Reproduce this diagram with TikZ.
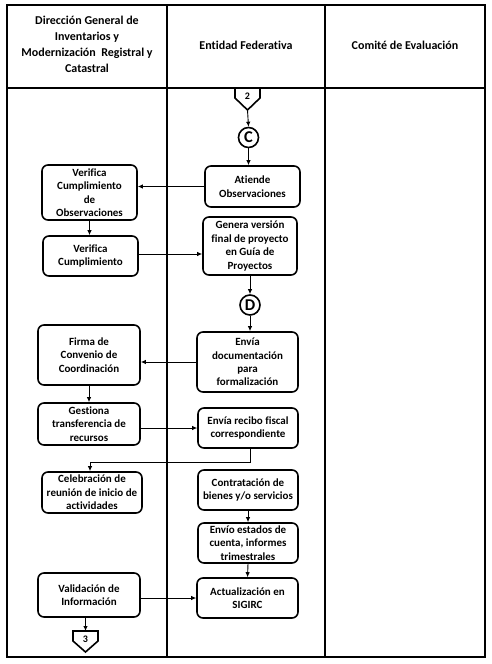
\documentclass[tikz,border=0pt]{standalone}
\usepackage{fontspec}
\setmainfont{Carlito}[Ligatures=NoCommon]
\usetikzlibrary{arrows.meta,calc}
\begin{document}
\begin{tikzpicture}[x=1pt,y=-1pt,
  box/.style={draw, line width=1.6pt, rounded corners=6pt, align=center, inner sep=0pt,
    font=\bfseries\fontsize{11}{13.4}\selectfont},
  conn/.style={draw, circle, line width=1.6pt, inner sep=0pt, minimum size=20pt,
    font=\bfseries\fontsize{16.5}{16.5}\selectfont},
  head/.style={align=center, font=\bfseries\fontsize{12}{16}\selectfont},
  arr/.style={line width=0.9pt, -{Latex[length=5pt,width=4.5pt]}},
  ln/.style={line width=0.9pt},
  offpage/.style={draw, line width=1.6pt, line join=miter},
  lab/.style={font=\bfseries\fontsize{10}{10}\selectfont, inner sep=0pt}
]
\useasboundingbox (0,0) rectangle (491,664);
% table
\draw[line width=2.2pt] (7,5) rectangle (485,657);
\draw[line width=2.2pt] (7,88) -- (485,88);
\draw[line width=1.4pt] (167,5) -- (167,657);
\draw[line width=1.4pt] (325,5) -- (325,657);
% headers
\node[head] (h1) at (87,44) {Dirección General de\\Inventarios y\\Modernización\ \ Registral y\\Catastral};
\node[head] (h2) at (246,45) {Entidad Federativa};
\node[head] (h3) at (405,45) {Comité de Evaluación};

% off-page connector 2
\draw[offpage] (235,88) -- (260,88) -- (260,98) -- (247.5,110) -- (235,98) -- cycle;
\node[lab] (p2) at (247.5,96) {2};
\coordinate (p2b) at (247.5,110);

\node[conn] (c) at (248.5,137.5) {C};
\node[box, minimum width=95pt, minimum height=41pt] (atiende) at (252.5,186.5) {Atiende\\Observaciones};
\node[box, minimum width=94pt, minimum height=58pt] (genera) at (250,246) {Genera versión\\final de proyecto\\en Guía de\\Proyectos};
\node[conn] (d) at (250,305) {D};
\node[box, minimum width=101pt, minimum height=60pt] (envdoc) at (247.5,362) {Envía\\documentación\\para\\formalización};
\node[box, minimum width=100pt, minimum height=40pt] (recibo) at (248,428) {Envía recibo fiscal\\correspondiente};
\node[box, minimum width=100pt, minimum height=40pt] (contrat) at (248,490) {Contratación de\\bienes y/o servicios};
\node[box, minimum width=100pt, minimum height=40pt] (envio) at (248,543) {Envío estados de\\cuenta, informes\\trimestrales};
\node[box, minimum width=101pt, minimum height=40pt] (actual) at (247.5,598) {Actualización en\\SIGIRC};

\node[box, minimum width=95pt, minimum height=55pt] (vco) at (89.5,192.5) {Verifica\\Cumplimiento\\de\\Observaciones};
\node[box, minimum width=95pt, minimum height=40pt] (vc) at (90.5,256) {Verifica\\Cumplimiento};
\node[box, minimum width=102pt, minimum height=60pt] (firma) at (89,355) {Firma de\\Convenio de\\Coordinación};
\node[box, minimum width=102pt, minimum height=42pt] (gestiona) at (89,424) {Gestiona\\transferencia de\\recursos};
\node[box, minimum width=100pt, minimum height=41pt] (celeb) at (92,492.5) {Celebración de\\reunión de inicio de\\actividades};
\node[box, minimum width=102pt, minimum height=44pt] (valid) at (89,595) {Validación de\\Información};

% off-page connector 3
\draw[offpage] (73,631) -- (98,631) -- (98,641) -- (85.5,652) -- (73,641) -- cycle;
\node[lab] (p3) at (85.5,639) {3};
\coordinate (p3t) at (85.5,631);

% connectors
\draw[arr] (p2b) -- (c.north);
\draw[arr] (c.south) -- (c.south |- atiende.north);
\draw[arr] (atiende.west) -- (atiende.west -| vco.east);
\draw[arr] (vco.south) -- (vco.south |- vc.north);
\draw[arr] ([yshift=2pt]vc.east) -- ([yshift=2pt]vc.east -| genera.west);
\draw[arr] (genera.south) -- (d.north);
\draw[arr] (d.south) -- (d.south |- envdoc.north);
\draw[arr] (envdoc.west) -- (envdoc.west -| firma.east);
\draw[arr] (firma.south) -- (firma.south |- gestiona.north);
\draw[arr] (recibo.west -| gestiona.east) -- (recibo.west);
\coordinate (jn) at (250,462);
\draw[arr] (recibo.south -| jn) -- (jn) -| ([xshift=-2pt]celeb.north);
\draw[arr] (contrat.south) -- (envio.north);
\draw[arr] (envio.south) -- (actual.north);
\draw[arr] (actual.west -| valid.east) -- (actual.west);
\draw[arr] (valid.south -| p3t) -- (p3t);
\end{tikzpicture}
\end{document}
